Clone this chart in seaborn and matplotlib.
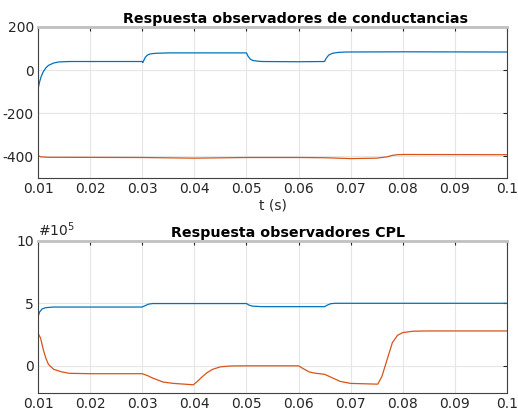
import numpy as np
import pandas as pd
import matplotlib
matplotlib.use("Agg")
import matplotlib.pyplot as plt
import seaborn as sns

# ---- data ----
t_g_blue = [0.0100, 0.0103, 0.0106, 0.0110, 0.0115, 0.0120, 0.0130, 0.0140, 0.0160, 0.0200, 0.0300,
            0.0301, 0.0303, 0.0306, 0.0310, 0.0315, 0.0325, 0.0350, 0.0400, 0.0500,
            0.0503, 0.0507, 0.0512, 0.0520, 0.0530, 0.0600, 0.0650,
            0.0653, 0.0658, 0.0665, 0.0675, 0.0690, 0.0800, 0.1000]
g_blue = [-88, -55, -30, -8, 10, 22, 33, 38, 40, 40, 40,
          35, 45, 60, 70, 75, 78, 80, 80, 80,
          65, 52, 45, 42, 40, 39, 40,
          55, 70, 78, 82, 84, 85, 84]

t_g_orange = [0.0100, 0.0105, 0.0120, 0.0300, 0.0400, 0.0500, 0.0600, 0.0650, 0.0700,
              0.0750, 0.0770, 0.0780, 0.0790, 0.0800, 0.1000]
g_orange = [-395, -402, -404, -405, -408, -405, -405, -406, -410,
            -408, -402, -395, -392, -391, -392]

t_p_blue = [0.0100, 0.0103, 0.0108, 0.0115, 0.0130, 0.0300, 0.0305, 0.0312, 0.0320, 0.0500,
            0.0505, 0.0512, 0.0530, 0.0650, 0.0655, 0.0662, 0.0670, 0.1000]
p_blue = [3.9, 4.3, 4.55, 4.65, 4.7, 4.7, 4.8, 4.93, 4.98, 4.98,
          4.85, 4.77, 4.73, 4.73, 4.85, 4.97, 5.0, 5.0]

t_p_orange = [0.0100, 0.0105, 0.0110, 0.0115, 0.0120, 0.0130, 0.0145, 0.0160, 0.0200, 0.0300,
              0.0310, 0.0320, 0.0340, 0.0360, 0.0398, 0.0405, 0.0415, 0.0425, 0.0435,
              0.0450, 0.0470, 0.0500, 0.0600, 0.0610, 0.0620, 0.0630, 0.0650, 0.0670,
              0.0680, 0.0700, 0.0752, 0.0760, 0.0770, 0.0780, 0.0790, 0.0800, 0.0820,
              0.0850, 0.1000]
p_orange = [2.6, 2.2, 1.3, 0.6, 0.1, -0.3, -0.5, -0.62, -0.65, -0.65,
            -0.8, -1.0, -1.32, -1.43, -1.54, -1.3, -0.9, -0.55, -0.3,
            -0.1, -0.03, -0.02, -0.02, -0.27, -0.5, -0.6, -0.7, -1.08,
            -1.27, -1.43, -1.49, -0.86, 0.49, 1.84, 2.43, 2.65, 2.76,
            2.78, 2.78]

xticks = [0.01, 0.02, 0.03, 0.04, 0.05, 0.06, 0.07, 0.08, 0.09, 0.1]
xticklabels = ["0.01", "0.02", "0.03", "0.04", "0.05", "0.06", "0.07", "0.08", "0.09", "0.1"]
top_yticks = [-400, -200, 0, 200]
bot_yticks = [0, 5, 10]

BLUE = "#0072BD"
ORANGE = "#D95319"

sns.set_style("white")
plt.rcParams['font.family'] = ['DejaVu Sans']

fig = plt.figure(figsize=(5.18, 4.13), dpi=100)
ax1 = fig.add_axes([38/518, 1-178/413, (507-38)/518, (178-27)/413])
ax2 = fig.add_axes([38/518, 1-393/413, (507-38)/518, (393-241)/413])

df1b = pd.DataFrame({"t": t_g_blue, "v": g_blue})
df1o = pd.DataFrame({"t": t_g_orange, "v": g_orange})
df2b = pd.DataFrame({"t": t_p_blue, "v": p_blue})
df2o = pd.DataFrame({"t": t_p_orange, "v": p_orange})

sns.lineplot(data=df1b, x="t", y="v", ax=ax1, color=BLUE, lw=0.9, estimator=None, sort=False)
sns.lineplot(data=df1o, x="t", y="v", ax=ax1, color=ORANGE, lw=0.9, estimator=None, sort=False)
sns.lineplot(data=df2b, x="t", y="v", ax=ax2, color=BLUE, lw=0.9, estimator=None, sort=False)
sns.lineplot(data=df2o, x="t", y="v", ax=ax2, color=ORANGE, lw=0.9, estimator=None, sort=False)

def style(ax, yticks, ylim):
    ax.set_xlim(0.01, 0.1)
    ax.set_ylim(*ylim)
    ax.set_xticks(xticks)
    ax.set_xticklabels(xticklabels)
    ax.set_yticks(yticks)
    ax.set_yticklabels([str(v) for v in yticks])
    ax.grid(True, color="#e6e6e6", lw=0.8)
    ax.set_axisbelow(True)
    ax.tick_params(axis="both", direction="in", length=3, width=0.8, colors="#262626",
                   labelsize=10, top=True, right=True, pad=3)
    for s in ["left", "bottom", "right"]:
        ax.spines[s].set_color("#404040")
        ax.spines[s].set_linewidth(0.8)
    ax.spines["top"].set_color("#c0c0c0")
    ax.spines["top"].set_linewidth(2.0)
    ax.set_ylabel("")

style(ax1, top_yticks, (-500, 200))
style(ax2, bot_yticks, (-2.2, 10))

ax1.set_xlabel("t (s)", fontsize=10, labelpad=2, color="#262626")
ax2.set_xlabel("")
ax1.set_title("Respuesta observadores de conductancias", fontsize=10.3, fontweight="bold",
              pad=3, color="black", x=(296-38)/469)
ax2.set_title("Respuesta observadores CPL", fontsize=10.3, fontweight="bold",
              pad=3, color="black", x=(288-38)/469)
ax2.text(0.0, 1.01, "#10$^5$", transform=ax2.transAxes, fontsize=10, color="#262626",
         ha="left", va="bottom")

fig.savefig("out.png", dpi=100)
